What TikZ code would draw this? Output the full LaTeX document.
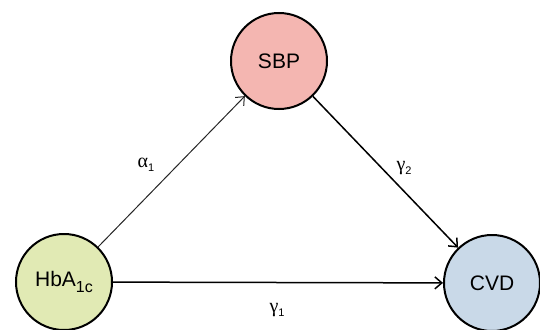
\documentclass[tikz,border=0pt]{standalone}
\usepackage{fontspec}
\setmainfont{Liberation Sans}
\newfontfamily\greekfont{Liberation Serif}
\usetikzlibrary{arrows.meta}
\definecolor{hbafill}{RGB}{225,234,180}
\definecolor{sbpfill}{RGB}{244,182,177}
\definecolor{cvdfill}{RGB}{201,217,232}
\newcommand{\coef}[2]{{\greekfont #1}\raisebox{-4pt}{\fontsize{11}{13}\selectfont #2}}
\tikzset{
  var/.style={circle,draw=black,line width=2pt,minimum size=96pt,inner sep=0pt,font=\fontsize{21}{24}\selectfont},
  path/.style={line width=1.5pt,-{Straight Barb[length=7pt,width=12pt]}},
  thinpath/.style={path,line width=1pt,black!85},
  lbl/.style={font=\fontsize{20}{22}\selectfont,inner sep=0pt},
}
\begin{document}
\begin{tikzpicture}[x=1pt,y=-1pt]
  \useasboundingbox (0,0) rectangle (540,329);
  % --- variables ---
  \node[var,fill=hbafill] (hba) at (64,282) {HbA\raisebox{-6pt}{\fontsize{16}{18}\selectfont 1c}};
  \node[var,fill=sbpfill] (sbp) at (279,61) {SBP};
  \node[var,fill=cvdfill] (cvd) at (492,283) {CVD};
  % --- paths ---
  \draw[thinpath] (hba) -- (sbp);
  \draw[path] (sbp) -- (cvd);
  \draw[path] (hba) -- (cvd);
  % --- coefficients ---
  \node[lbl] (a1) at (146,165) {\coef{α}{1}};
  \node[lbl] (g2) at (404,168) {\coef{γ}{2}};
  \node[lbl] (g1) at (277,310) {\coef{γ}{1}};
\end{tikzpicture}
\end{document}
